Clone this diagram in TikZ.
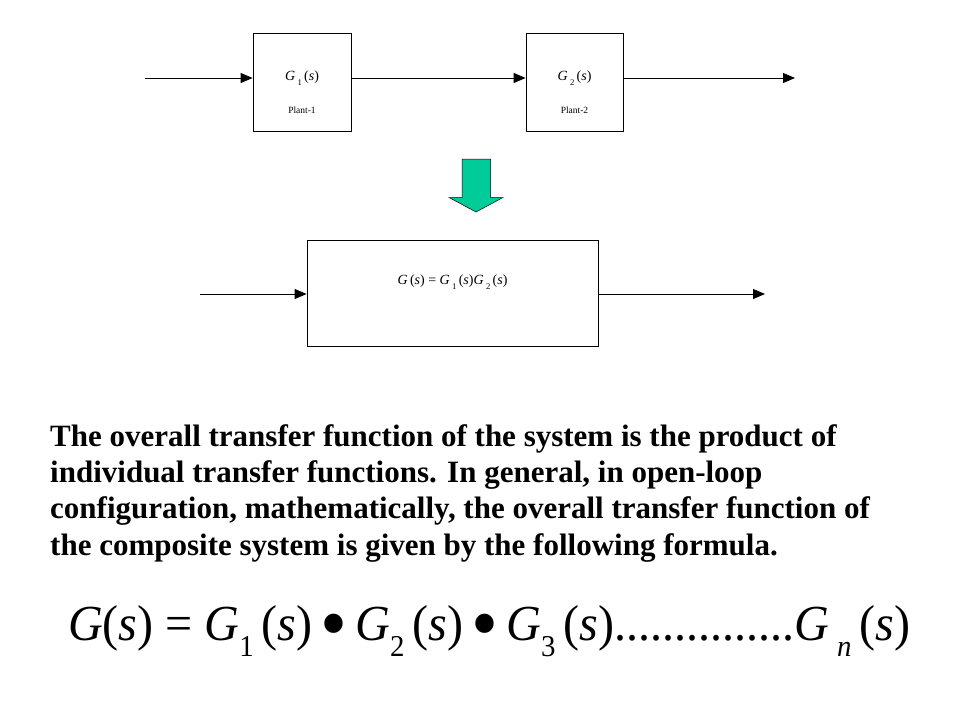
\documentclass[tikz,border=0pt]{standalone}
\usepackage{fontspec}
\setmainfont{Liberation Serif}
\usepackage{graphicx}
\usetikzlibrary{arrows.meta}
\definecolor{arrowgreen}{RGB}{0,204,153}
\newcommand{\lowsub}[1]{\raisebox{-0.32em}{\scalebox{0.62}{#1}}}
\newcommand{\bigdot}{\,\raisebox{-0.2em}{\scalebox{1.6}{\textbullet}}\,}

\begin{document}
\begin{tikzpicture}[x=1pt,y=-1pt]
        \useasboundingbox[fill=white] (0,0) rectangle (960,720);
        \tikzset{plantbox/.style={rectangle,draw,line width=0.8pt,inner sep=0pt},
                 flow/.style={-{Triangle[length=12pt,width=10pt]},line width=0.8pt},
                 small/.style={font=\fontsize{14}{16}\selectfont}}
        % series connection
        \node[minimum width=98pt, minimum height=98pt] at (302,82) [plantbox] (plant1) {};
        \node[minimum width=97pt, minimum height=98pt] at (574.5,82) [plantbox] (plant2) {};
        \node[small] at (302,78) (gone) {\textit{G}\,\lowsub{1}\,(\textit{s})};
        \node at (302,110) (lone) {\fontsize{9.5}{11}\selectfont Plant-1};
        \node[small] at (574.5,78) (gtwo) {\textit{G}\,\lowsub{2}\,(\textit{s})};
        \node at (574.5,110) (ltwo) {\fontsize{9.5}{11}\selectfont Plant-2};
        \coordinate (in1) at (145,78);
        \coordinate (out2) at (795,78);
        \draw[flow] (in1) -- (plant1.west |- in1);
        \draw[flow] (plant1.east |- in1) -- (plant2.west |- in1);
        \draw[flow] (plant2.east |- in1) -- (out2);
        % equivalent block
        \draw[fill=arrowgreen,line width=0.5pt] (462,159) -- (490.5,159) -- (490.5,197.5) -- (503,197.5)
            -- (476,212) -- (449,197.5) -- (462,197.5) -- cycle;
        \node[minimum width=291pt, minimum height=106pt] at (452.5,293) [plantbox] (overall) {};
        \node[small] at (452.5,282) (gall) {\textit{G}\,(\textit{s}) = \textit{G}\,\lowsub{1}\,(\textit{s})\textit{G}\,\lowsub{2}\,(\textit{s})};
        \coordinate (in3) at (200,294);
        \coordinate (out3) at (765,294);
        \draw[flow] (in3) -- (overall.west |- in3);
        \draw[flow] (overall.east |- in3) -- (out3);
        % explanation
        \node[anchor=base west, align=left, inner sep=0pt, font=\bfseries\fontsize{31}{36.3}\selectfont] at (50,555) (expl)
            {The overall transfer function of the system is the product of\\
             individual transfer functions. In general, in open-loop\\
             configuration, mathematically, the overall transfer function of\\
             the composite system is given by the following formula.};
        \node[anchor=base west, inner sep=0pt] at (68,640) (formula)
            {\resizebox{842pt}{35pt}{\fontsize{50}{60}\selectfont\textit{G}(\textit{s}) = \textit{G}\raisebox{-0.32em}{\scalebox{0.6}{1}}\,(\textit{s})\bigdot\textit{G}\raisebox{-0.32em}{\scalebox{0.6}{2}}\,(\textit{s})\bigdot\textit{G}\raisebox{-0.32em}{\scalebox{0.6}{3}}\,(\textit{s})...............\textit{G}\,\raisebox{-0.32em}{\scalebox{0.6}{\textit{n}}}\,(\textit{s})}};
    \end{tikzpicture}
\end{document}
